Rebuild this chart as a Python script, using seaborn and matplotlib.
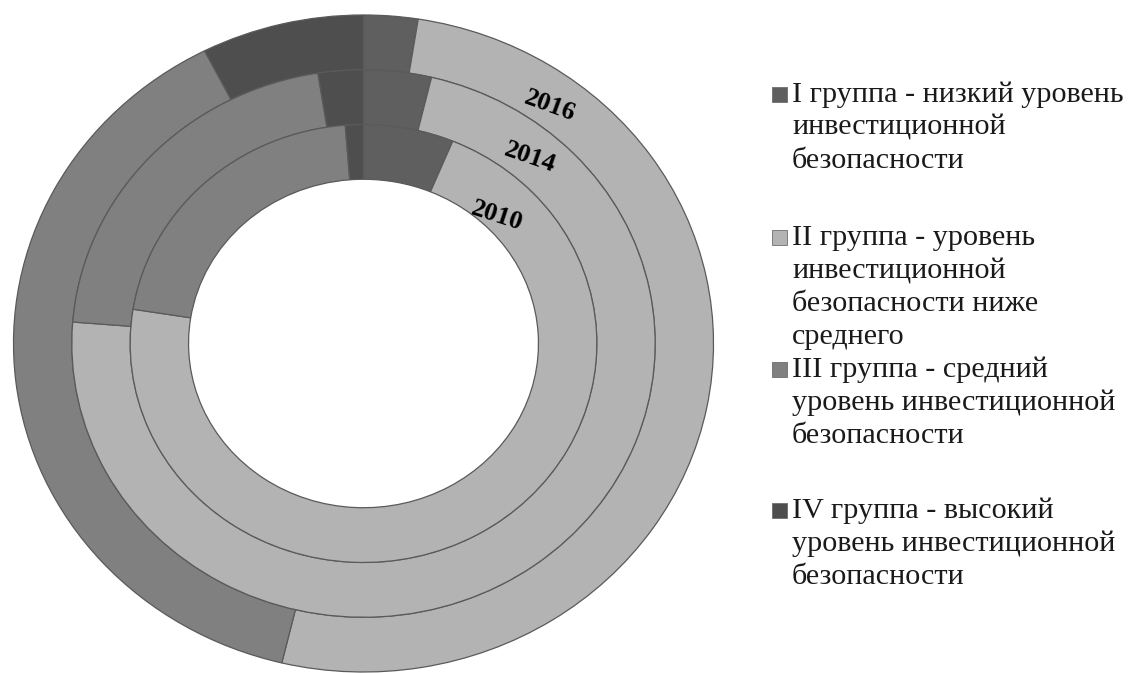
import numpy as np
import matplotlib
matplotlib.use("Agg")
import matplotlib.pyplot as plt
from matplotlib.patches import Rectangle
import seaborn as sns

# Number of regions in each investment-security group, by year
years = ["2010", "2014", "2016"]
groups = ["I", "II", "III", "IV"]
counts_2010 = [5, 57, 17, 1]
counts_2014 = [3, 58, 17, 2]
counts_2016 = [2, 41, 31, 6]

legend_labels = [
    ["I группа - низкий уровень", "инвестиционной", "безопасности"],
    ["II группа - уровень", "инвестиционной", "безопасности ниже", "среднего"],
    ["III группа - средний", "уровень инвестиционной", "безопасности"],
    ["IV группа - высокий", "уровень инвестиционной", "безопасности"],
]

sns.set_theme(style="white")
plt.rcParams["font.family"] = ["Liberation Serif", "DejaVu Serif"]

palette = sns.color_palette(["#5f5f5f", "#b3b3b3", "#808080", "#4e4e4e"])
edge = "#5a5a5a"

W, H = 1128, 673
fig = plt.figure(figsize=(W / 100, H / 100), dpi=100)
fig.patch.set_facecolor("white")

# Doughnut area (slightly wider than tall)
cx, cy, rx, ry = 363.5, 343.5, 350.0, 328.5
ax = fig.add_axes([(cx - rx) / W, (H - cy - ry) / H, 2 * rx / W, 2 * ry / H])

ring_width = 0.1667
rings = [(counts_2016, 1.0), (counts_2014, 1.0 - ring_width), (counts_2010, 1.0 - 2 * ring_width)]
for values, radius in rings:
    wedges, _ = ax.pie(
        values,
        radius=radius,
        colors=palette,
        startangle=90,
        counterclock=False,
        wedgeprops=dict(width=ring_width, edgecolor=edge, linewidth=0.9),
    )
    for w in wedges:
        w.set_clip_on(False)

ax.set_aspect("auto")
ax.set_xlim(-1, 1)
ax.set_ylim(-1, 1)
ax.axis("off")

# Year labels on the rings (angle clockwise from top, radius, rotation)
label_pos = {"2016": (36.4, 0.898, -20), "2014": (40.1, 0.739, -19), "2010": (44.5, 0.544, -18)}
for yr in years:
    ang, r, rot = label_pos[yr]
    t = np.deg2rad(ang)
    ax.text(r * np.sin(t), r * np.cos(t), yr, rotation=rot, ha="center", va="center",
            fontsize=19, fontweight="bold", color="black")

# Legend drawn line by line
baselines = [[102, 135, 168], [245, 278, 311, 344], [377, 410, 443], [518, 551, 584]]
sq = 15
for color, lines, bls in zip(palette, legend_labels, baselines):
    fig.add_artist(Rectangle(((772) / W, (H - bls[0]) / H), sq / W, sq / H,
                             transform=fig.transFigure, facecolor=color,
                             edgecolor="#6e6e6e", linewidth=0.6))
    for line, b in zip(lines, bls):
        fig.text(792 / W, (H - b) / H, line, ha="left", va="baseline",
                 fontsize=21.7, color="#1a1a1a")

fig.savefig("out.png", dpi=100, facecolor="white")
